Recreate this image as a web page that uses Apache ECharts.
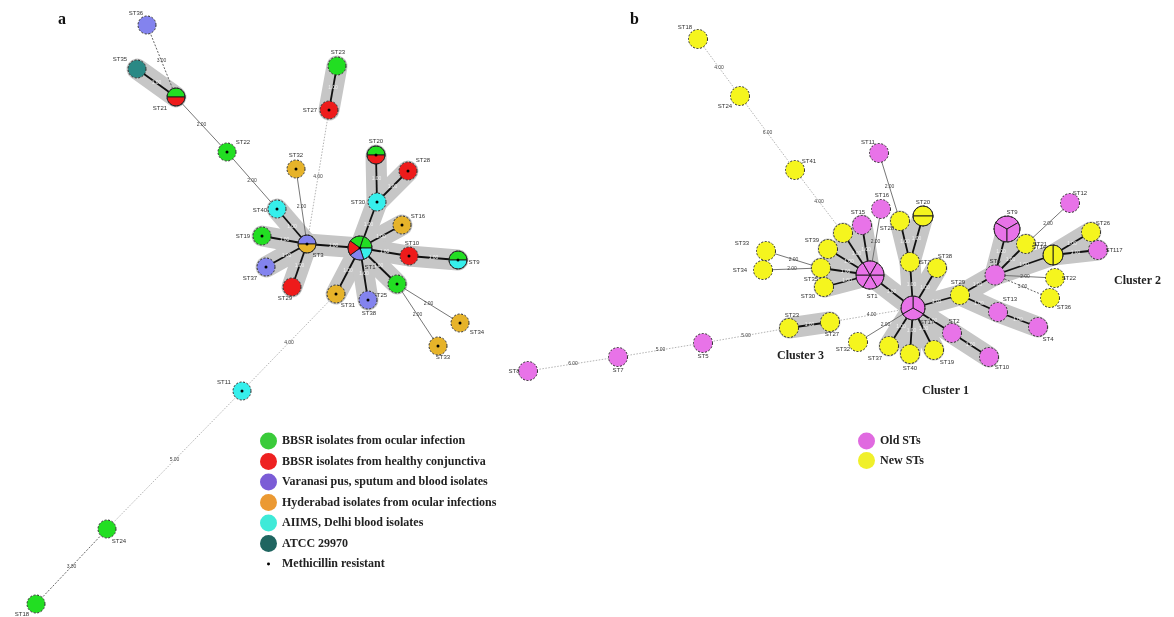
<!DOCTYPE html>
<html><head><meta charset="utf-8">
<script src="https://cdn.jsdelivr.net/npm/echarts@6/dist/echarts.min.js"></script>
<style>html,body{margin:0;padding:0;background:#fff}#c{width:1174px;height:617px}</style>
</head><body><div id="c"></div>
<script>
// ---------- Panel a: [name, x, y, sources, methicillin resistant] ----------
const nodesA = [
 ["ST36",147,25,"V",0],["ST35",137,69,"T",0],["ST21",176,97,"GR",0],
 ["ST22",227,152,"G",1],["ST23",337,66,"G",0],["ST27",329,110,"R",1],
 ["ST32",296,169,"H",1],["ST40",277,209,"A",1],["ST19",262,236,"G",1],
 ["ST3",307,244,"VH",1],["ST37",266,267,"V",1],["ST29",292,287,"R",0],
 ["ST20",376,155,"GR",1],["ST28",408,171,"R",1],["ST30",377,202,"A",1],
 ["ST16",402,225,"H",1],["ST1",360,248,"GGAVR",1],["ST10",409,256,"R",1],
 ["ST9",458,260,"GA",1],["ST25",397,284,"G",1],["ST31",336,294,"H",1],
 ["ST38",368,300,"V",1],["ST34",460,323,"H",1],["ST33",438,346,"H",1],
 ["ST11",242,391,"A",1],["ST24",107,529,"G",0],["ST18",36,604,"G",0]
];
// [from, to, allelic distance]
const edgesA = [
 ["ST36","ST21",3],["ST35","ST21",1],["ST21","ST22",2],["ST22","ST40",2],
 ["ST23","ST27",1],["ST27","ST3",4],["ST32","ST3",2],["ST40","ST3",1],
 ["ST19","ST3",1],["ST37","ST3",1],["ST29","ST3",1],["ST3","ST1",1],
 ["ST1","ST30",1],["ST30","ST20",1],["ST30","ST28",1],["ST1","ST16",1],
 ["ST1","ST10",1],["ST10","ST9",1],["ST1","ST25",1],["ST1","ST31",1],
 ["ST1","ST38",1],["ST25","ST34",2],["ST25","ST33",2],["ST31","ST11",4],
 ["ST11","ST24",5],["ST24","ST18",3]
];
const legendA = ["BBSR isolates from ocular infection","BBSR isolates from healthy conjunctiva",
 "Varanasi pus, sputum and blood isolates","Hyderabad isolates from ocular infections",
 "AIIMS, Delhi blood isolates","ATCC 29970","Methicillin resistant"];

// ---------- Panel b: [name, x, y, O=old / N=new, slices] ----------
const nodesB = [
 ["ST18",698,39,"N",1],["ST24",740,96,"N",1],["ST41",795,170,"N",1],
 ["ST11",879,153,"O",1],["ST16",881,209,"O",1],["ST15",862,225,"O",1],
 ["ST31",843,233,"N",1],["ST39",828,249,"N",1],["ST35",821,268,"N",1],
 ["ST30",824,287,"N",1],["ST1",870,275,"O",6],["ST33",766,251,"N",1],
 ["ST34",763,270,"N",1],["ST23",789,328,"N",1],["ST27",830,322,"N",1],
 ["ST17",913,308,"O",3],["ST32",858,342,"N",1],["ST37",889,346,"N",1],
 ["ST40",910,354,"N",1],["ST19",934,350,"N",1],["ST25",910,262,"N",1],
 ["ST38",937,268,"N",1],["ST28",900,221,"N",1],["ST20",923,216,"N",2],
 ["ST29",960,295,"N",1],["ST6",995,275,"O",1],["ST9",1007,229,"O",3],
 ["ST21",1026,244,"N",1],["ST12",1070,203,"O",1],["ST14",1053,255,"N",2],
 ["ST26",1091,232,"N",1],["ST117",1098,250,"O",1],["ST22",1055,278,"N",1],
 ["ST36",1050,298,"N",1],["ST13",998,312,"O",1],["ST4",1038,327,"O",1],
 ["ST2",952,333,"O",1],["ST10",989,357,"O",1],["ST5",703,343,"O",1],
 ["ST7",618,357,"O",1],["ST8",528,371,"O",1]
];
const edgesB = [
 ["ST18","ST24",4],["ST24","ST41",6],["ST41","ST31",4],["ST11","ST28",2],
 ["ST16","ST1",2],["ST15","ST1",1],["ST31","ST1",1],["ST39","ST1",1],
 ["ST35","ST1",1],["ST30","ST1",1],["ST33","ST35",2],["ST34","ST35",2],
 ["ST1","ST17",1],["ST17","ST25",1],["ST25","ST28",1],["ST25","ST20",1],
 ["ST17","ST38",1],["ST17","ST29",1],["ST29","ST6",1],["ST29","ST13",1],
 ["ST13","ST4",1],["ST17","ST2",1],["ST2","ST10",1],["ST17","ST37",1],
 ["ST17","ST40",1],["ST17","ST19",1],["ST17","ST32",2],["ST17","ST27",4],
 ["ST23","ST27",1],["ST23","ST5",5],["ST5","ST7",5],["ST7","ST8",6],
 ["ST6","ST9",1],["ST6","ST21",1],["ST6","ST14",1],["ST14","ST26",1],
 ["ST14","ST117",1],["ST6","ST22",2],["ST6","ST36",3],["ST12","ST21",2]
];
const legendB = ["Old STs","New STs"];
const clusterNames = ["Cluster 1","Cluster 2","Cluster 3"];

// ---------- styles / label placement (not data) ----------
const PI = Math.PI;
const groupColor = {G:'#22de22',R:'#ee1b1b',V:'#8383ee',H:'#e6b32a',A:'#36efec',T:'#2a8985'};
const kindColor = {O:'#e873e8',N:'#f5f51e'};
const legendColorA = ['#3acb3a','#ee2121','#7b5cd6','#eb9933','#3fead8','#1f6560','#000'];
const legendColorB = ['#e06ae0','#f0f02a'];
const radius = {'a:ST1':12,'b:ST1':14,'b:ST17':12,'b:ST9':13,'b:ST6':10,'b:ST14':10,'b:ST20':10};
const sliceStart = {'a:ST1':1.2*PI,'b:ST14':-PI/2,'b:ST17':-PI/2,'b:ST9':PI/2,'b:ST1':0};
const labelOff = {
 'a:ST36':[-11,-12],'a:ST35':[-17,-10],'a:ST21':[-16,11],'a:ST22':[16,-10],'a:ST23':[1,-14],
 'a:ST27':[-19,0],'a:ST32':[0,-14],'a:ST40':[-17,1],'a:ST19':[-19,0],'a:ST3':[11,11],
 'a:ST37':[-16,11],'a:ST29':[-7,11],'a:ST20':[0,-14],'a:ST28':[15,-11],'a:ST30':[-19,0],
 'a:ST16':[16,-9],'a:ST1':[10,19],'a:ST10':[3,-13],'a:ST9':[16,2],'a:ST25':[-17,11],
 'a:ST31':[12,11],'a:ST38':[1,13],'a:ST34':[17,9],'a:ST33':[5,11],'a:ST11':[-18,-9],
 'a:ST24':[12,12],'a:ST18':[-14,10],
 'b:ST18':[-13,-12],'b:ST24':[-15,10],'b:ST41':[14,-9],'b:ST11':[-11,-11],'b:ST16':[1,-14],
 'b:ST15':[-4,-13],'b:ST31':[-14,10],'b:ST39':[-16,-9],'b:ST35':[-10,11],'b:ST30':[-16,9],
 'b:ST1':[2,21],'b:ST33':[-24,-8],'b:ST34':[-23,0],'b:ST23':[3,-13],'b:ST27':[2,12],
 'b:ST17':[14,14],'b:ST32':[-15,7],'b:ST37':[-14,12],'b:ST40':[0,14],'b:ST19':[13,12],
 'b:ST25':[17,0],'b:ST38':[8,-12],'b:ST28':[-13,7],'b:ST20':[0,-14],'b:ST29':[-2,-13],
 'b:ST6':[0,-14],'b:ST9':[5,-17],'b:ST21':[14,0],'b:ST12':[10,-10],'b:ST14':[-14,-8],
 'b:ST26':[12,-9],'b:ST117':[16,0],'b:ST22':[14,0],'b:ST36':[14,9],'b:ST13':[12,-13],
 'b:ST4':[10,12],'b:ST2':[2,-12],'b:ST10':[13,10],'b:ST5':[0,13],'b:ST7':[0,13],'b:ST8':[-14,0]
};

// ---------- build ----------
const nodeList = [], pos = {};
nodesA.forEach(([n,x,y,src,mr]) => {
  const id = 'a:'+n; pos[id] = [x,y];
  nodeList.push({id,label:n,x,y,fills:src.split('').map(c=>groupColor[c]),mr,
    r:radius[id]||9,start:sliceStart[id]!==undefined?sliceStart[id]:PI,off:labelOff[id]||[0,-13]});
});
nodesB.forEach(([n,x,y,kind,k]) => {
  const id = 'b:'+n; pos[id] = [x,y];
  nodeList.push({id,label:n,x,y,fills:new Array(k).fill(kindColor[kind]),mr:0,
    r:radius[id]||9.5,start:sliceStart[id]!==undefined?sliceStart[id]:PI,off:labelOff[id]||[0,-13]});
});
const edgeList = [];
edgesA.forEach(([a,b,d]) => edgeList.push([...pos['a:'+a],...pos['a:'+b],d]));
edgesB.forEach(([a,b,d]) => edgeList.push([...pos['b:'+a],...pos['b:'+b],d]));
const haloList = edgeList.filter(e => e[4] === 1);

function edgeStyle(d){
  if (d === 1) return {stroke:'#111',lineWidth:1.8};
  if (d === 2) return {stroke:'#666',lineWidth:0.9};
  if (d === 3) return {stroke:'#555',lineWidth:0.9,lineDash:[2,1.5]};
  return {stroke:'#aaa',lineWidth:0.9,lineDash:[1.5,1.5]};
}
const SANS = '"Liberation Sans", Arial, sans-serif';
const SERIF = '"Liberation Serif", "Times New Roman", serif';

function renderHalo(params, api){
  const p1 = api.coord([api.value(0),api.value(1)]), p2 = api.coord([api.value(2),api.value(3)]);
  return {type:'line',shape:{x1:p1[0],y1:p1[1],x2:p2[0],y2:p2[1]},
    style:{stroke:'#c6c6c6',lineWidth:21,lineCap:'round'}};
}
function renderEdge(params, api){
  const p1 = api.coord([api.value(0),api.value(1)]), p2 = api.coord([api.value(2),api.value(3)]);
  const d = api.value(4);
  return {type:'group',children:[
    {type:'line',shape:{x1:p1[0],y1:p1[1],x2:p2[0],y2:p2[1]},style:edgeStyle(d)},
    {type:'text',style:{text:d.toFixed(2),x:(p1[0]+p2[0])/2,y:(p1[1]+p2[1])/2,
      fill:d===1?'#f0f0f0':'#444',font:'5px '+SANS,align:'center',verticalAlign:'middle'}}
  ]};
}
function renderNode(params, api){
  const n = nodeList[params.dataIndex];
  const c = api.coord([api.value(0),api.value(1)]);
  const r = n.r, k = n.fills.length, ch = [];
  if (k === 1) {
    ch.push({type:'circle',shape:{cx:c[0],cy:c[1],r},style:{fill:n.fills[0]}});
  } else {
    for (let i=0;i<k;i++){
      const a0 = n.start + i*2*PI/k;
      ch.push({type:'sector',shape:{cx:c[0],cy:c[1],r0:0,r,startAngle:a0,endAngle:a0+2*PI/k,clockwise:true},
        style:{fill:n.fills[i],stroke:'#1a1a1a',lineWidth:0.9}});
    }
  }
  ch.push({type:'circle',shape:{cx:c[0],cy:c[1],r},style:{fill:'none',stroke:'#2a2a2a',lineWidth:1,lineDash:[2,1.6]}});
  if (n.mr) ch.push({type:'circle',shape:{cx:c[0],cy:c[1],r:1.5},style:{fill:'#000'}});
  ch.push({type:'text',style:{text:n.label,x:c[0]+n.off[0],y:c[1]+n.off[1],fill:'#333',
    font:'6px '+SANS,align:'center',verticalAlign:'middle'}});
  return {type:'group',children:ch};
}

const DOT_ICON = 'path://M0,0M16,16M6.6,8a1.4,1.4 0 1,0 2.8,0a1.4,1.4 0 1,0 -2.8,0Z';
const dummyA = legendA.map((name,i)=>({type:'scatter',name,data:[],itemStyle:{color:legendColorA[i],opacity:1}}));
const dummyB = legendB.map((name,i)=>({type:'scatter',name,data:[],itemStyle:{color:legendColorB[i],opacity:1}}));
const legendText = {fontFamily:SERIF,fontWeight:'bold',fontSize:12,color:'#222',padding:[0,0,0,0]};

const chart = echarts.init(document.getElementById('c'), null, {renderer:'canvas'});
chart.setOption({
  animation:false,
  backgroundColor:'#fff',
  grid:{left:0,right:0,top:0,bottom:0},
  xAxis:{type:'value',min:0,max:1174,show:false},
  yAxis:{type:'value',min:0,max:617,inverse:true,show:false},
  legend:[
    {orient:'vertical',left:255,top:427.5,itemWidth:17,itemHeight:17,itemGap:3.5,icon:'circle',
     selectedMode:false,data:legendA.map((name,i)=>i===6?{name,icon:DOT_ICON}:{name}),textStyle:legendText},
    {orient:'vertical',left:853,top:427.5,itemWidth:17,itemHeight:17,itemGap:2.5,icon:'circle',
     selectedMode:false,data:legendB,textStyle:legendText}
  ],
  graphic:[
    {type:'text',left:58,top:12,style:{text:'a',font:'bold 16px '+SERIF,fill:'#111'}},
    {type:'text',left:630,top:12,style:{text:'b',font:'bold 16px '+SERIF,fill:'#111'}},
    {type:'text',left:922,top:385,style:{text:clusterNames[0],font:'bold 12px '+SERIF,fill:'#222'}},
    {type:'text',left:1114,top:275,style:{text:clusterNames[1],font:'bold 12px '+SERIF,fill:'#222'}},
    {type:'text',left:777,top:350,style:{text:clusterNames[2],font:'bold 12px '+SERIF,fill:'#222'}}
  ],
  series:[
    {type:'custom',name:'halo',coordinateSystem:'cartesian2d',clip:false,silent:true,
     encode:{x:[0,2],y:[1,3]},data:haloList,renderItem:renderHalo,z:1},
    {type:'custom',name:'edges',coordinateSystem:'cartesian2d',clip:false,silent:true,
     encode:{x:[0,2],y:[1,3]},data:edgeList,renderItem:renderEdge,z:2},
    {type:'custom',name:'nodes',coordinateSystem:'cartesian2d',clip:false,silent:true,
     encode:{x:0,y:1},data:nodeList.map(n=>[n.x,n.y]),renderItem:renderNode,z:3},
    ...dummyA, ...dummyB
  ]
});
</script></body></html>
